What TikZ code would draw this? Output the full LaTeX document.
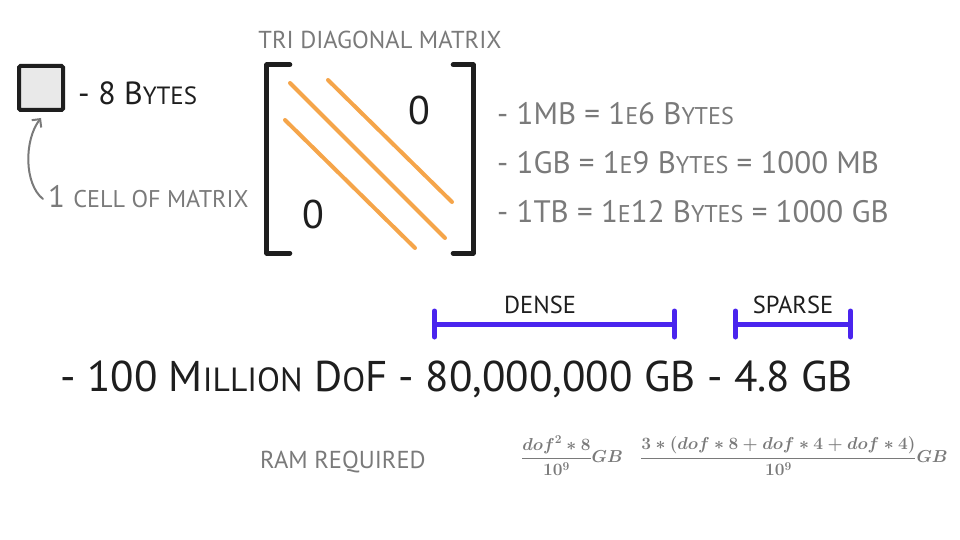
\documentclass[tikz,border=0pt]{standalone}
\usepackage{amsmath}
\usepackage{fontspec}
\setmainfont{PT Sans}
\usetikzlibrary{positioning, arrows.meta}
\definecolor{colInk}{HTML}{1E1E1E}
\definecolor{colNote}{HTML}{7A7A7A}
\definecolor{colCell}{HTML}{E9E9E9}
\definecolor{colBand}{HTML}{F5A54A}
\definecolor{colSpan}{HTML}{4A24EE}
\makeatletter
\newcommand\smcp[1]{{\fontsize{\the\dimexpr\f@size pt*78/100\relax}{0pt}\selectfont\MakeUppercase{#1}}}
\makeatother

\begin{document}
\begin{tikzpicture}[
    x=1pt, y=-1pt,
    txt/.style={inner sep=0pt, anchor=west, text=colInk, font=\fontsize{32}{36}\selectfont},
    note/.style={txt, text=colNote, font=\fontsize{31}{36}\selectfont},
    caption/.style={inner sep=0pt, font=\fontsize{24.5}{28}\selectfont},
    big/.style={txt, font=\fontsize{43}{48}\selectfont},
    zero/.style={inner sep=0pt, text=colInk, font=\fontsize{40}{44}\selectfont},
    cell/.style={draw=colInk, fill=colCell, line width=4pt, rounded corners=1.5pt,
                 minimum size=44pt, inner sep=0pt},
    bracket/.style={draw=colInk, line width=5pt, line cap=round, line join=round},
    band/.style={draw=colBand, line width=4pt, line cap=round},
    span/.style={draw=colSpan, line width=5pt, line cap=round,
                 {Bar[width=26pt,round]}-{Bar[width=26pt,round]}},
    formula/.style={inner sep=0pt, anchor=west, text=colNote, font=\fontsize{18}{21}\selectfont\boldmath},
]
\useasboundingbox (0,0) rectangle (960,540);

% ---- one cell --------------------------------------------------------------
\node[cell] (cell) at (41,88) {};
\node[txt] (bytes) at (78,93) {- 8 B\smcp{ytes}};
\node[txt, text=colNote, font=\fontsize{31}{36}\selectfont] (cellnote) at (48,197) {1 \smcp{cell of matrix}};
\draw[colNote, line width=2pt, line cap=round, -{Straight Barb[length=6pt]}]
    ([xshift=-5pt, yshift=-2pt]cellnote.west) .. controls (24,184) and (24,140) .. ([yshift=-6pt]cell.south);

% ---- tri diagonal matrix ---------------------------------------------------
\node[caption, text=colNote] (title) at (380,40) {TRI DIAGONAL MATRIX};
\node[minimum width=206pt, minimum height=188pt, inner sep=0pt] (mat) at (370,159) {};
\draw[bracket] ([xshift=23pt]mat.north west) -- (mat.north west) -- (mat.south west) -- ([xshift=23pt]mat.south west);
\draw[bracket] ([xshift=-20pt]mat.north east) -- (mat.north east) -- (mat.south east) -- ([xshift=-20pt]mat.south east);

\draw[band] (328,80) -- (452,202);
\draw[band] (290,83) -- (445,238);
\draw[band] (285,120) -- (415,248);

\node[zero] (zup) at (419,111) {0};
\node[zero] (zlo) at (313,214) {0};

% ---- unit notes ------------------------------------------------------------
\node[note] (mb) at (497,114) {- 1MB = 1\smcp{e}6 B\smcp{ytes}};
\node[note] (gb) at (497,163) {- 1GB = 1\smcp{e}9 B\smcp{ytes} = 1000 MB};
\node[note] (tb) at (497,212) {- 1TB = 1\smcp{e}12 B\smcp{ytes} = 1000 GB};

% ---- dense / sparse spans --------------------------------------------------
\coordinate (dl) at (432,324);
\coordinate (dr) at (677,324);
\coordinate (sl) at (733,324);
\coordinate (sr) at (853,324);
\draw[span] (dl) -- (dr);
\draw[span] (sl) -- (sr);
\node[caption, text=colInk] (dense) at (540,305) {DENSE};
\node[caption, text=colInk] (sparse) at (793,305) {SPARSE};

\node[big] (dof) at (60,379) {- 100 M\smcp{illion} D\smcp{o}F - 80,000,000 GB - 4.8 GB};

% ---- ram required ----------------------------------------------------------
\node[caption, text=colNote, anchor=west] (ram) at (260,462) {RAM REQUIRED};
\node[formula] (fdense) at (521,456) {$\dfrac{dof^2*8}{10^9}GB$};
\node[formula] (fsparse) at (640,456) {$\dfrac{3*(dof*8+dof*4+dof*4)}{10^9}GB$};

\end{tikzpicture}
\end{document}
